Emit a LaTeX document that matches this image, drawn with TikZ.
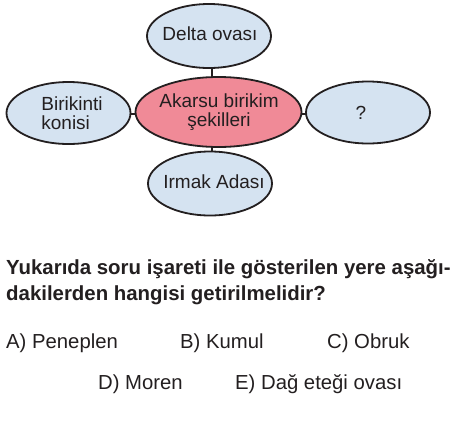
\documentclass[tikz,border=0pt]{standalone}
\usepackage{fontspec}
\setmainfont{Liberation Sans}
\definecolor{ebl}{HTML}{D5E3F1}
\definecolor{epk}{HTML}{F08A97}
\definecolor{eln}{HTML}{231F20}
\begin{document}
\begin{tikzpicture}[x=1pt,y=-1pt,
  bub/.style={draw=eln,line width=1.8pt,fill=ebl,inner sep=0pt},
  lbl/.style={font=\fontsize{19}{18.5}\selectfont,align=left,text=eln},
  conn/.style={draw=eln,line width=2.2pt},
  txt/.style={anchor=base west,text=eln,inner sep=0pt},
  qfont/.style={font=\fontsize{20.4}{26}\selectfont\bfseries},
  afont/.style={font=\fontsize{20.3}{24}\selectfont}]
\useasboundingbox (0,0) rectangle (467,424);
\fill[white] (0,0) rectangle (467,424);
% ellipses
\draw[bub] (209,36) ellipse [x radius=62,y radius=32];
\draw[bub,fill=epk] (218.5,112) ellipse [x radius=83,y radius=35];
\draw[bub] (68.5,113) ellipse [x radius=62,y radius=31];
\draw[bub] (368,112.5) ellipse [x radius=62,y radius=31];
\draw[bub] (210,183.5) ellipse [x radius=62,y radius=32];
\coordinate (dT) at (212,68); \coordinate (cT) at (212,77.3);
\coordinate (cB) at (212,146.7); \coordinate (iT) at (212,151.6);
\coordinate (bR) at (130.5,114); \coordinate (cL) at (135.6,114);
\coordinate (cR) at (301.4,114); \coordinate (qL) at (306,114);
\draw[conn] (dT) -- (cT);
\draw[conn] (cB) -- (iT);
\draw[conn] (bR) -- (cL);
\draw[conn] (cR) -- (qL);
% labels
\node[lbl] (delta) at (210,33.5) {Delta ovası};
\node[lbl,align=center] (center) at (219,112) {Akarsu birikim\\şekilleri};
\node[lbl] (birik) at (72,113) {Birikinti\\konisi};
\node[lbl] (q) at (361,113) {?};
\node[lbl] (irmak) at (214,182) {Irmak Adası};
% question
\node[txt,qfont] (q1) at (6,274) {Yukarıda soru işareti ile gösterilen yere aşağı-};
\node[txt,qfont] (q2) at (6,300) {dakilerden hangisi getirilmelidir?};
\node[txt,afont] (a) at (6,348) {A) Peneplen};
\node[txt,afont] (b) at (180,348) {B) Kumul};
\node[txt,afont] (c) at (327,348) {C) Obruk};
\node[txt,afont] (d) at (98,389) {D) Moren};
\node[txt,afont] (e) at (235,389) {E) Dağ eteği ovası};
\end{tikzpicture}
\end{document}
